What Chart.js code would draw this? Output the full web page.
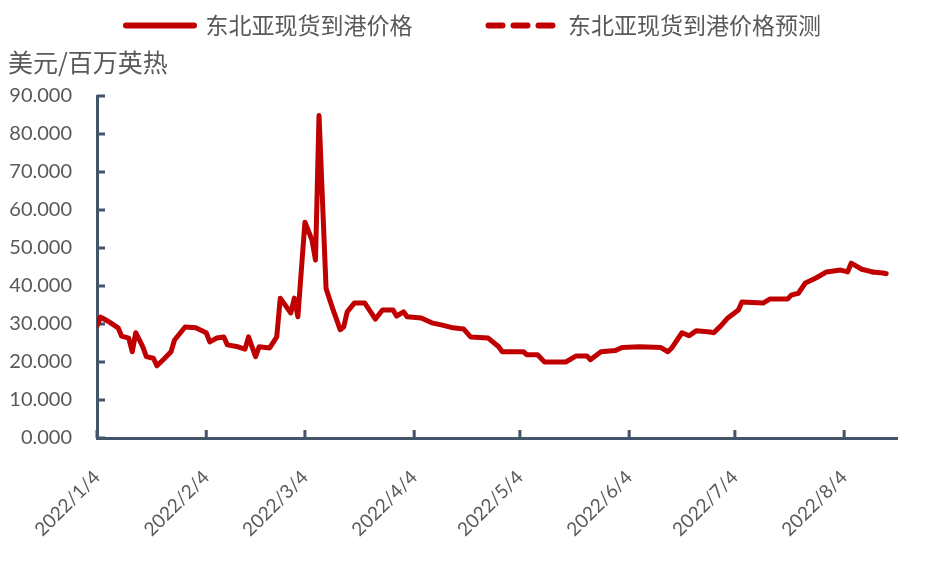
<!DOCTYPE html>
<html><head><meta charset="utf-8">
<script src="https://cdn.jsdelivr.net/npm/chart.js@4.4.0/dist/chart.umd.min.js"></script>
<style>html,body{margin:0;padding:0;background:#fff;}#wrap{width:940px;height:564px;position:relative;}</style>
</head><body><div id="wrap"><canvas id="c" width="940" height="564"></canvas></div>
<script>
const seriesNames = ['东北亚现货到港价格', '东北亚现货到港价格预测'];
const yAxisUnit = '美元/百万英热';
const baseYear = 2022;
const actualDates = ['1/4','1/5','1/6','1/7','1/10','1/11','1/13','1/14','1/15','1/17','1/18','1/20','1/21','1/23','1/25','1/26','1/29',
  '2/1','2/4','2/5','2/7','2/9','2/10','2/13','2/15','2/16','2/17','2/18','2/19','2/22','2/24','2/25','2/28',
  '3/1','3/2','3/4','3/6','3/7','3/8','3/10','3/12','3/14','3/15','3/16','3/18','3/21','3/24','3/26','3/29','3/30',
  '4/1','4/2','4/6','4/9','4/12','4/15','4/18','4/20','4/25','4/28','4/29',
  '5/5','5/6','5/9','5/11','5/17','5/20','5/23','5/24','5/27','5/31',
  '6/2','6/7','6/13','6/15','6/16','6/19','6/21','6/23','6/27','6/28','6/30',
  '7/2','7/5','7/6','7/12','7/14','7/19','7/20','7/22','7/24','7/27','7/30',
  '8/3','8/5','8/6','8/9','8/12'];
const actualValues = [29.5,31.8,31.3,30.8,29.0,26.8,26.3,22.7,27.7,24.0,21.4,21.0,19.0,20.8,22.7,25.8,29.2,
  29.0,27.7,25.3,26.3,26.6,24.5,24.0,23.4,26.6,24.0,21.4,24.0,23.7,26.6,36.8,32.9,
  36.8,31.9,56.8,52.1,46.8,84.9,39.3,33.7,28.5,29.2,33.2,35.5,35.5,31.3,33.7,33.7,32.1,
  33.2,31.9,31.6,30.3,29.7,29.0,28.7,26.6,26.3,24.0,22.7,
  22.7,21.9,21.9,20.0,20.0,21.6,21.6,20.6,22.7,23.0,
  23.8,24.0,23.8,22.7,23.6,27.7,26.9,28.2,27.9,27.7,29.5,
  31.6,33.7,35.8,35.5,36.6,36.6,37.6,38.1,40.8,42.1,43.7,
  44.2,43.7,46.0,44.4,43.7];
const forecastDates = ['8/12','8/15','8/18'];
const forecastValues = [43.7,43.4,42.9];
const xTickDates = ['2022/1/4','2022/2/4','2022/3/4','2022/4/4','2022/5/4','2022/6/4','2022/7/4','2022/8/4'];
const xAxisEnd = '2022/8/19';
const yTicks = [0,10,20,30,40,50,60,70,80,90];

function dayIndex(s){
  const p = s.split('/').map(Number);
  const ymd = p.length === 3 ? p : [baseYear, p[0], p[1]];
  return (Date.UTC(ymd[0], ymd[1]-1, ymd[2]) - Date.UTC(baseYear, 0, 4)) / 86400000;
}
const toPoints = (dates, vals) => dates.map((d, i) => ({x: dayIndex(d), y: vals[i]}));

const AXIS = '#44546A';
const TXT = '#595959';
const RED = '#C00000';

const innerTicks = {
  id: 'innerTicks',
  beforeDatasetsDraw(chart){
    const {ctx, chartArea, scales} = chart;
    ctx.save();
    ctx.strokeStyle = AXIS; ctx.lineWidth = 3;
    ctx.beginPath();
    scales.x.ticks.forEach(t => { const px = scales.x.getPixelForValue(t.value); ctx.moveTo(px, chartArea.bottom); ctx.lineTo(px, chartArea.bottom - 8); });
    scales.y.ticks.forEach(t => { const py = scales.y.getPixelForValue(t.value); ctx.moveTo(chartArea.left, py); ctx.lineTo(chartArea.left + 8, py); });
    ctx.stroke();
    ctx.restore();
  }
};

Chart.defaults.font.family = 'Lato';
new Chart(document.getElementById('c'), {
  type: 'line',
  data: { datasets: [
    { label: seriesNames[0], data: toPoints(actualDates, actualValues), borderColor:RED, backgroundColor:RED,
      borderWidth:5, pointRadius:0, borderCapStyle:'round', borderJoinStyle:'round', tension:0 },
    { label: seriesNames[1], data: toPoints(forecastDates, forecastValues), borderColor:RED, backgroundColor:RED,
      borderWidth:5, pointRadius:0, borderCapStyle:'round', borderJoinStyle:'round', borderDash:[14,11], tension:0 }
  ]},
  options: {
    responsive:false, animation:false, devicePixelRatio:1,
    layout:{ padding:{ top:-62, left:8, right:43, bottom:0 } },
    plugins:{
      legend:{ position:'top', align:'end', labels:{ usePointStyle:true, pointStyle:'line', pointStyleWidth:68, padding:76,
        color:TXT, font:{ family:'Noto Sans CJK SC', size:23 },
        generateLabels: chart => Chart.defaults.plugins.legend.labels.generateLabels(chart).map((it, i) => Object.assign(it, {
          lineDash: chart.data.datasets[i].borderDash || [], lineWidth: 6, lineCap: 'round', strokeStyle: RED, fillStyle: RED, pointStyle: 'line' })) } },
      title:{ display:true, text:yAxisUnit, align:'start', position:'top', weight:500, color:TXT,
        font:{ family:'Noto Sans CJK SC', size:25, weight:'normal' }, padding:{ top:0, bottom:19 } },
      tooltip:{ enabled:false }
    },
    scales:{
      x:{ type:'linear', min:0, max:dayIndex(xAxisEnd), grid:{ display:false, drawTicks:false }, border:{ display:true, color:AXIS, width:3 },
        afterBuildTicks: s => { s.ticks = xTickDates.map(d => ({ value: dayIndex(d) })); },
        afterFit: s => { s.height = 126; },
        ticks:{ autoSkip:false, maxRotation:45, minRotation:45, padding:28, color:TXT, font:{ size:19 },
          callback: v => { const i = xTickDates.findIndex(d => dayIndex(d) === v); return i >= 0 ? xTickDates[i] : ''; } } },
      y:{ min:0, max:90, grid:{ display:false, drawTicks:false }, border:{ display:true, color:AXIS, width:3 },
        afterBuildTicks: s => { s.ticks = yTicks.map(v => ({ value: v })); },
        afterFit: s => { s.width = 89; },
        ticks:{ padding:25, color:TXT, font:{ size:20 }, callback: v => Number(v).toFixed(3) } }
    }
  },
  plugins:[innerTicks]
});
</script></body></html>
